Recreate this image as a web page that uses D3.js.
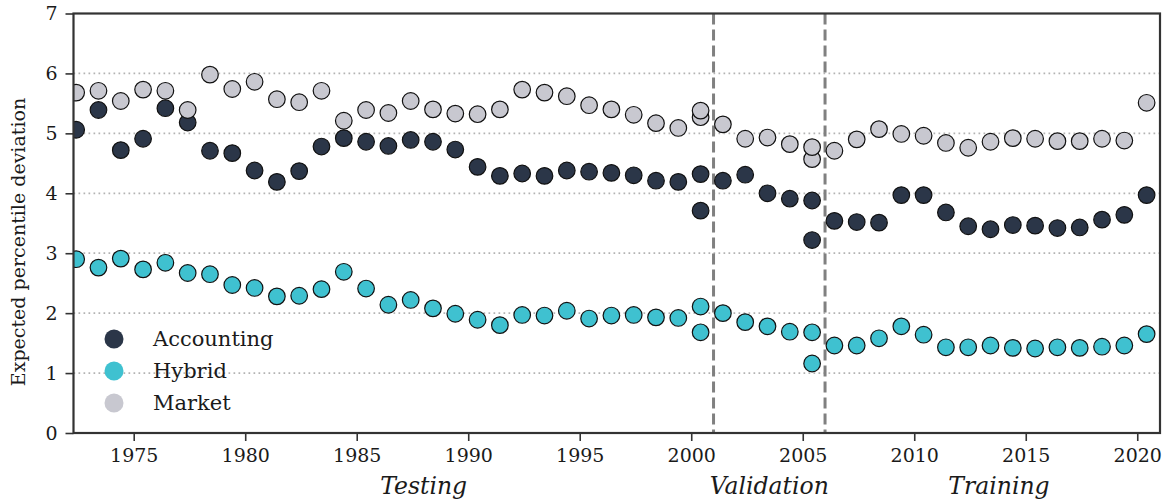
<!DOCTYPE html>
<html>
<head>
<meta charset="utf-8">
<script src="https://cdn.jsdelivr.net/npm/d3@7"></script>
<style>
  body { margin: 0; background: #fff; }
  text { font-family: "DejaVu Serif", serif; fill: #1a1a1a; }
</style>
</head>
<body>
<script>

var width = 1171,
	height = 501;

// years of the yearly points (plotted at year + offset)
var years = d3.range(1972, 2021);
var offset = 0.42;

var accounting = [5.06, 5.39, 4.72, 4.91, 5.42, 5.18, 4.71, 4.67, 4.38, 4.19,
	4.37, 4.78, 4.92, 4.86, 4.79, 4.89, 4.86, 4.73, 4.44, 4.29,
	4.33, 4.29, 4.38, 4.36, 4.34, 4.30, 4.21, 4.19, 4.32, 4.21,
	4.31, 4.00, 3.91, 3.88, 3.54, 3.52, 3.51, 3.97, 3.97, 3.68,
	3.45, 3.40, 3.47, 3.46, 3.42, 3.43, 3.56, 3.64, 3.97];

var hybrid = [2.90, 2.76, 2.91, 2.73, 2.84, 2.67, 2.65, 2.47, 2.42, 2.28,
	2.29, 2.40, 2.69, 2.41, 2.14, 2.22, 2.08, 1.99, 1.89, 1.80,
	1.97, 1.96, 2.04, 1.91, 1.96, 1.97, 1.93, 1.92, 2.11, 2.00,
	1.85, 1.78, 1.69, 1.68, 1.46, 1.46, 1.58, 1.78, 1.64, 1.43,
	1.43, 1.46, 1.42, 1.41, 1.43, 1.42, 1.44, 1.46, 1.65];

var market = [5.68, 5.71, 5.54, 5.73, 5.71, 5.39, 5.98, 5.74, 5.86, 5.57,
	5.52, 5.71, 5.21, 5.39, 5.34, 5.54, 5.40, 5.33, 5.32, 5.40,
	5.73, 5.68, 5.62, 5.47, 5.40, 5.31, 5.17, 5.09, 5.38, 5.15,
	4.91, 4.93, 4.82, 4.77, 4.71, 4.90, 5.07, 4.99, 4.96, 4.84,
	4.76, 4.86, 4.92, 4.91, 4.87, 4.87, 4.91, 4.88, 5.51];

// second points at the split years (2000 and 2005)
var splitYears = [2000, 2005];
var accountingSplit = [3.71, 3.22];
var hybridSplit = [1.68, 1.16];
var marketSplit = [5.27, 4.57];

var seriesNames = ["Accounting", "Hybrid", "Market"];
var seriesColors = ["#2b3648", "#3fc1d0", "#c8c8d0"];

var boundaries = [2001, 2006];
var periodNames = ["Testing", "Validation", "Training"];
var periodCenters = [1988, 2003.5, 2013.8];

var yTicks = [0, 1, 2, 3, 4, 5, 6, 7];
var xTicks = [1975, 1980, 1985, 1990, 1995, 2000, 2005, 2010, 2015, 2020];

var margin = {top: 13.5, right: 11, bottom: 68, left: 73.5};

var svg = d3.select("body").append("svg")
	.attr("width", width)
	.attr("height", height)
	.style("display", "block");

var x = d3.scaleLinear()
	.domain([1972.3, 2021.02])
	.range([margin.left, width - margin.right]);

var y = d3.scaleLinear()
	.domain([0, 7])
	.range([height - margin.bottom, margin.top]);

svg.append("clipPath").attr("id", "clip")
	.append("rect")
	.attr("x", margin.left)
	.attr("y", margin.top)
	.attr("width", width - margin.left - margin.right)
	.attr("height", height - margin.top - margin.bottom);

// dotted grid
svg.append("g").selectAll("line")
	.data(yTicks.slice(1, -1))
	.enter().append("line")
	.attr("x1", margin.left)
	.attr("x2", width - margin.right)
	.attr("y1", function(d) { return y(d); })
	.attr("y2", function(d) { return y(d); })
	.attr("stroke", "#b3b3b3")
	.attr("stroke-width", 1.7)
	.attr("stroke-dasharray", "1.7,3.3");

// split lines
svg.append("g").selectAll("line")
	.data(boundaries)
	.enter().append("line")
	.attr("x1", function(d) { return x(d); })
	.attr("x2", function(d) { return x(d); })
	.attr("y1", y(7))
	.attr("y2", y(0))
	.attr("stroke", "#808080")
	.attr("stroke-width", 3)
	.attr("stroke-dasharray", "11,5");

// points
var allSeries = [accounting, hybrid, market];
var allSplit = [accountingSplit, hybridSplit, marketSplit];

var pts = svg.append("g").attr("clip-path", "url(#clip)");

allSeries.forEach(function(vals, i) {
	var data = allSplit[i].map(function(v, j) { return {yr: splitYears[j], v: v}; })
		.concat(vals.map(function(v, j) { return {yr: years[j], v: v}; }));
	pts.append("g").selectAll("circle")
		.data(data)
		.enter().append("circle")
		.attr("cx", function(d) { return x(d.yr + offset); })
		.attr("cy", function(d) { return y(d.v); })
		.attr("r", 8.3)
		.attr("fill", seriesColors[i])
		.attr("stroke", "#111")
		.attr("stroke-width", 1.2);
});

// axes
var yAxis = d3.axisLeft(y)
	.tickValues(yTicks)
	.tickSize(8)
	.tickPadding(8)
	.tickFormat(d3.format("d"));

var xAxis = d3.axisBottom(x)
	.tickValues(xTicks)
	.tickSize(8)
	.tickPadding(8)
	.tickFormat(d3.format("d"));

var gy = svg.append("g")
	.attr("transform", "translate(" + margin.left + ",0)")
	.call(yAxis);

var gx = svg.append("g")
	.attr("transform", "translate(0," + (height - margin.bottom) + ")")
	.call(xAxis);

[gx, gy].forEach(function(g) {
	g.select(".domain").remove();
	g.selectAll(".tick line").attr("stroke", "#333").attr("stroke-width", 1.6);
	g.selectAll(".tick text").style("font-size", "19px").attr("fill", "#1a1a1a");
});

// frame
svg.append("rect")
	.attr("x", margin.left)
	.attr("y", margin.top)
	.attr("width", width - margin.left - margin.right)
	.attr("height", height - margin.top - margin.bottom)
	.attr("fill", "none")
	.attr("stroke", "#333")
	.attr("stroke-width", 2.2);

svg.append("text")
	.attr("transform", "translate(25,242) rotate(-90)")
	.attr("text-anchor", "middle")
	.style("font-size", "19px")
	.text("Expected percentile deviation");

svg.selectAll(".period")
	.data(periodNames)
	.enter().append("text")
	.attr("class", "period")
	.attr("x", function(d, i) { return x(periodCenters[i]); })
	.attr("y", 494)
	.attr("text-anchor", "middle")
	.style("font-size", "23.5px")
	.style("font-style", "italic")
	.text(function(d) { return d; });

// legend
var legend = svg.append("g");
seriesNames.forEach(function(name, i) {
	var ly = 339 + i * 32;
	legend.append("circle")
		.attr("cx", 114)
		.attr("cy", ly)
		.attr("r", 9.5)
		.attr("fill", seriesColors[i]);
	legend.append("text")
		.attr("x", 153)
		.attr("y", ly)
		.attr("dy", "0.35em")
		.style("font-size", "21px")
		.text(name);
});

</script>
</body>
</html>
